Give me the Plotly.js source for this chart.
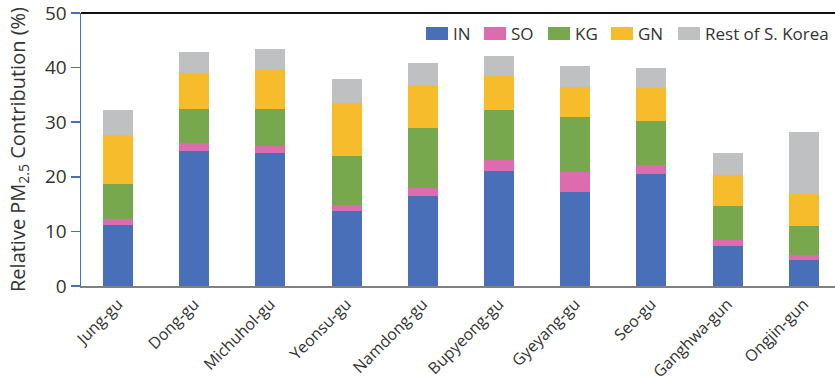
<!DOCTYPE html>
<html>
<head>
<meta charset="utf-8">
<script src="https://cdn.plot.ly/plotly-3.0.1.min.js"></script>
<style>
  html, body { margin: 0; padding: 0; background: #ffffff; }
  #chart { width: 835px; height: 382px; }
</style>
</head>
<body>
<div id="chart"></div>
<script>
// Districts of Incheon
const districts = ["Jung-gu", "Dong-gu", "Michuhol-gu", "Yeonsu-gu", "Namdong-gu",
                   "Bupyeong-gu", "Gyeyang-gu", "Seo-gu", "Ganghwa-gun", "Ongjin-gun"];

// Relative PM2.5 contribution (%) by source region
const inValues   = [11.2, 24.8, 24.3, 13.8, 16.4, 21.0, 17.3, 20.6, 7.4, 4.8];
const soValues   = [1.1, 1.3, 1.3, 1.0, 1.5, 2.0, 3.6, 1.6, 1.1, 0.9];
const kgValues   = [6.4, 6.4, 6.9, 9.0, 11.1, 9.2, 10.0, 8.0, 6.1, 5.3];
const gnValues   = [8.9, 6.6, 7.0, 9.8, 7.8, 6.2, 5.6, 6.0, 5.7, 5.8];
const restValues = [4.6, 3.7, 3.9, 4.4, 4.0, 3.7, 3.8, 3.7, 4.0, 11.4];

const seriesNames  = ["IN", "SO", "KG", "GN", "Rest of S. Korea"];
const seriesValues = [inValues, soValues, kgValues, gnValues, restValues];
const seriesColors = ["#4a6fb9", "#dc6cae", "#77a84e", "#f6bc2c", "#bfc0c2"];

const W = 835, H = 382;
const M = { l: 81, r: 0, t: 13, b: 96 };
const plotW = W - M.l - M.r, plotH = H - M.t - M.b;

const traces = seriesNames.map((name, i) => ({
  type: "bar",
  name: name,
  x: districts,
  y: seriesValues[i],
  marker: { color: seriesColors[i], line: { width: 0 } },
  hoverinfo: "name+y",
  showlegend: false
}));

// Legend drawn as wide swatches with labels, laid out in pixels along the top
const legendLeft = [426, 484, 548, 611, 678];  // left edge of each swatch (px)
const swatchW = 22, swatchTop = 27, swatchBottom = 40;
const px2x = p => (p - M.l) / plotW;
const px2y = p => (H - M.b - p) / plotH;

const legendShapes = seriesNames.map((name, i) => ({
  type: "rect", xref: "paper", yref: "paper",
  x0: px2x(legendLeft[i]), x1: px2x(legendLeft[i] + swatchW),
  y0: px2y(swatchBottom), y1: px2y(swatchTop),
  fillcolor: seriesColors[i], line: { width: 0 }
}));
const legendLabels = seriesNames.map((name, i) => ({
  xref: "paper", yref: "paper",
  x: px2x(legendLeft[i] + swatchW + 3), xanchor: "left",
  y: px2y((swatchTop + swatchBottom) / 2), yanchor: "middle",
  text: name, showarrow: false,
  font: { size: 17, color: "#333333" }
}));

const layout = {
  width: W,
  height: H,
  margin: M,
  paper_bgcolor: "#ffffff",
  plot_bgcolor: "#ffffff",
  barmode: "stack",
  bargap: 0.606,
  font: { family: "Open Sans, Noto Sans, sans-serif", color: "#333333", size: 15 },
  showlegend: false,
  xaxis: {
    type: "category",
    range: [-0.486, 9.41],
    tickangle: -45,
    tickfont: { size: 16, color: "#333333" },
    ticklabelstandoff: 1,
    showline: true,
    linecolor: "#808080",
    linewidth: 1.5,
    ticks: "",
    showgrid: false,
    zeroline: false,
    fixedrange: true
  },
  yaxis: {
    range: [0, 50],
    dtick: 10,
    tickfont: { size: 19, color: "#333333" },
    ticklabeloverflow: "allow",
    showline: true,
    linecolor: "#4a6fb9",
    linewidth: 1.5,
    ticks: "outside",
    ticklen: 9,
    tickcolor: "#4a6fb9",
    tickwidth: 1.5,
    showgrid: false,
    zeroline: false,
    title: {
      text: "Relative PM<sub>2.5</sub> Contribution (%)",
      font: { size: 20, color: "#333333" },
      standoff: 14
    },
    fixedrange: true
  },
  shapes: [
    // top frame line
    { type: "line", xref: "paper", yref: "paper", x0: 0, x1: 1, y0: 1, y1: 1,
      line: { color: "#111111", width: 2 } }
  ].concat(legendShapes),
  annotations: legendLabels
};

Plotly.newPlot("chart", traces, layout, { displayModeBar: false, staticPlot: true });
</script>
</body>
</html>
